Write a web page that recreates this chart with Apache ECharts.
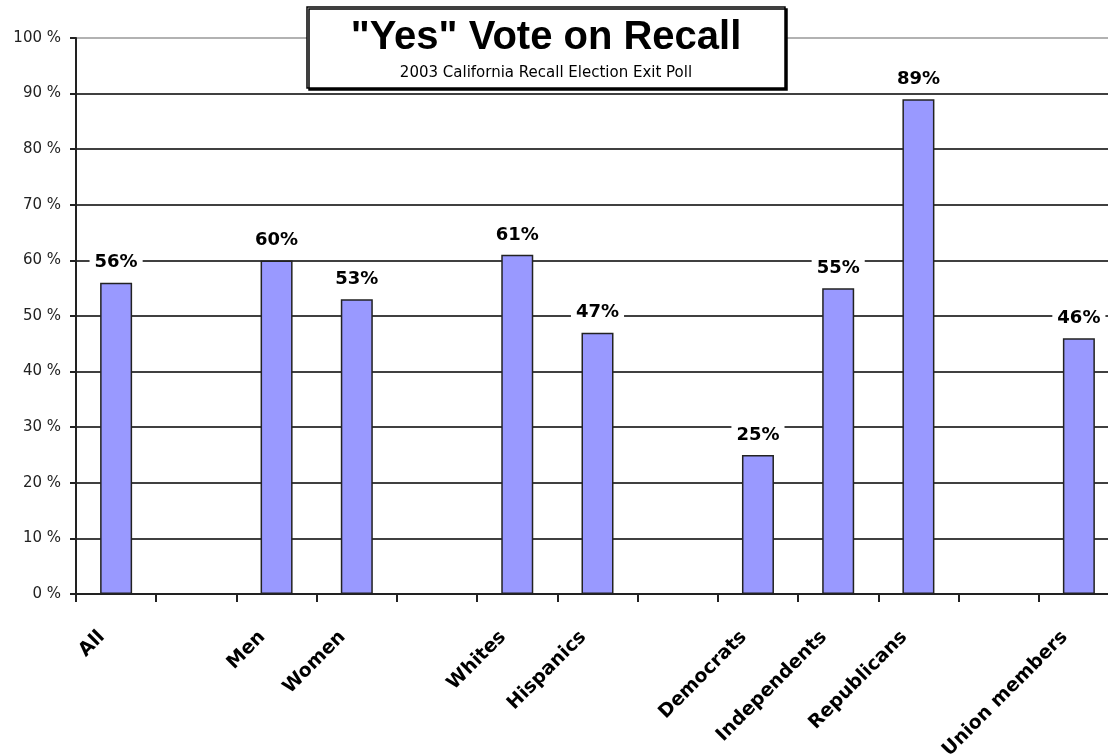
<!DOCTYPE html>
<html>
<head>
<meta charset="utf-8">
<script src="https://cdn.jsdelivr.net/npm/echarts@6/dist/echarts.min.js"></script>
<style>html,body{margin:0;padding:0;background:#fff;}#chart{width:1108px;height:754px;}</style>
</head>
<body>
<div id="chart"></div>
<script>
const categories = ['All', '', 'Men', 'Women', ' ', 'Whites', 'Hispanics', '  ', 'Democrats', 'Independents', 'Republicans', '   ', 'Union members'];
const yesVote = [56, null, 60, 53, null, 61, 47, null, 25, 55, 89, null, 46];
const titleText = '"Yes" Vote on Recall';
const subtitleText = '2003 California Recall Election Exit Poll';

const chart = echarts.init(document.getElementById('chart'));
const gridColors = ['#000','#000','#000','#000','#000','#000','#000','#000','#000','#000','#999'];
chart.setOption({
  animation: false,
  backgroundColor: '#fff',
  grid: { left: 76, top: 38, right: -11, bottom: 160, containLabel: false, outerBoundsMode: 'none' },
  xAxis: {
    type: 'category',
    data: categories,
    axisLine: { lineStyle: { color: '#222', width: 2 } },
    axisTick: { show: true, length: 8, alignWithLabel: false, lineStyle: { color: '#222', width: 2 } },
    axisLabel: {
      interval: 0, rotate: 45, margin: 26,
      formatter: v => v.trim() ? '{t|' + v + '}{s| }' : '',
      rich: {
        t: { fontFamily: 'DejaVu Sans', fontWeight: 'bold', fontSize: 19, color: '#000' },
        s: { width: 20, fontSize: 19 }
      }
    }
  },
  yAxis: {
    type: 'value',
    min: 0, max: 100, interval: 10,
    axisLine: { show: true, lineStyle: { color: '#222', width: 2 } },
    axisTick: { show: true, length: 6, lineStyle: { color: '#222', width: 2 } },
    axisLabel: { formatter: '{value} %', fontFamily: 'DejaVu Sans', fontSize: 15, color: '#222', margin: 15 },
    splitLine: { show: true, lineStyle: { color: gridColors, width: 1.5 } }
  },
  series: [{
    type: 'bar',
    data: yesVote,
    barWidth: 32,
    itemStyle: { color: '#9999FF', borderColor: '#222', borderWidth: 1.5 },
    label: {
      show: true, position: 'top', distance: 10,
      formatter: p => p.value + '%',
      fontFamily: 'DejaVu Sans', fontWeight: 'bold', fontSize: 18, color: '#000',
      backgroundColor: '#fff', padding: [1, 5, 1, 5]
    }
  }],
  graphic: [
    { type: 'rect', shape: { x: 307, y: 7, width: 478, height: 81 }, z: 100,
      style: { fill: '#fff', stroke: '#000', lineWidth: 1.5, shadowColor: '#000', shadowOffsetX: 2, shadowOffsetY: 2, shadowBlur: 0 } },
    { type: 'text', z: 101, style: { text: titleText, x: 546, y: 38, align: 'center', verticalAlign: 'middle', font: 'bold 40px "Liberation Sans", Arial', fill: '#000' } },
    { type: 'text', z: 101, style: { text: subtitleText, x: 546, y: 73, align: 'center', verticalAlign: 'middle', font: '15px "DejaVu Sans"', fill: '#000' } }
  ]
});
</script>
</body>
</html>
